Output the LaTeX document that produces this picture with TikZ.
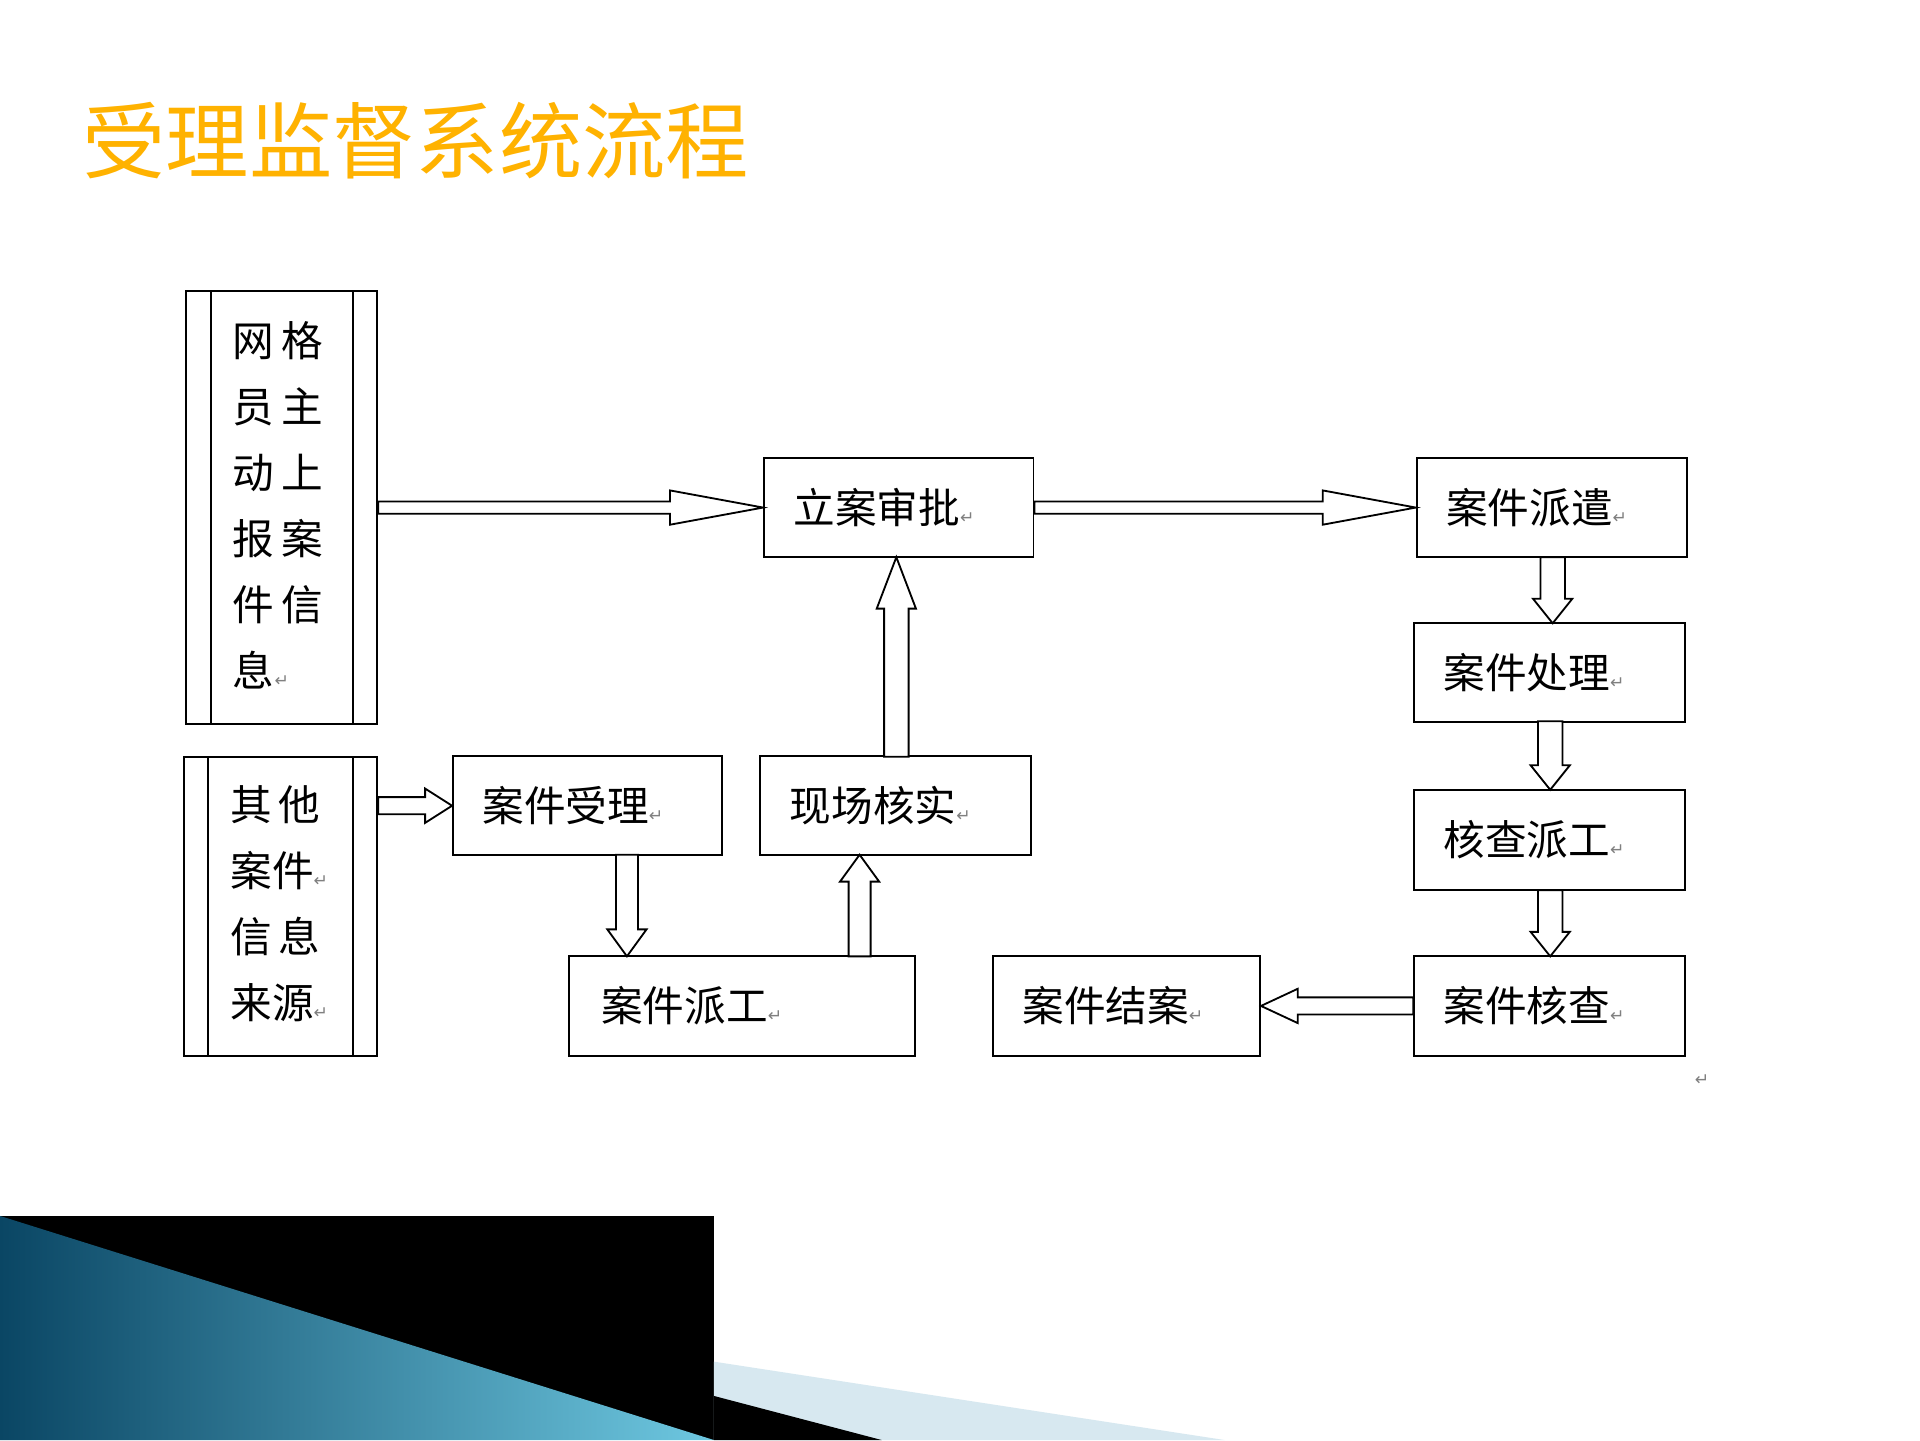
\documentclass[tikz,border=0pt]{standalone}
\usepackage{fontspec}
\newfontfamily\cjk{Noto Sans CJK SC}
\newfontfamily\dv{DejaVu Sans}
\usetikzlibrary{calc,shadings}
\definecolor{tdark}{RGB}{10,70,100}
\definecolor{tlight}{RGB}{110,200,225}
\definecolor{pale}{RGB}{215,232,240}
\newcommand\ret{{\dv\fontsize{14}{14}\selectfont\color{gray}↵}}
\tikzset{
  bx/.style={draw,line width=1.6pt,minimum width=#1,minimum height=81pt,inner sep=0pt,font=\cjk\fontsize{34}{38}\selectfont},
  ha/.style={draw,line width=1.5pt,fill=white}
}
\newcommand\rarr[5]{\path[ha] let \p1=(#1),\p2=(#2) in (\x1,\y1+#3)--(\x2-#5,\y1+#3)--(\x2-#5,\y1+#4)--(\x2,\y1)--(\x2-#5,\y1-#4)--(\x2-#5,\y1-#3)--(\x1,\y1-#3)--cycle;}
\newcommand\larr[5]{\path[ha] let \p1=(#1),\p2=(#2) in (\x1,\y1+#3)--(\x2+#5,\y1+#3)--(\x2+#5,\y1+#4)--(\x2,\y1)--(\x2+#5,\y1-#4)--(\x2+#5,\y1-#3)--(\x1,\y1-#3)--cycle;}
\newcommand\darr[5]{\path[ha] let \p1=(#1),\p2=(#2) in (\x1+#3,\y1)--(\x1+#3,\y2+#5)--(\x1+#4,\y2+#5)--(\x1,\y2)--(\x1-#4,\y2+#5)--(\x1-#3,\y2+#5)--(\x1-#3,\y1)--cycle;}
\newcommand\uarr[5]{\path[ha] let \p1=(#1),\p2=(#2) in (\x1+#3,\y1)--(\x1+#3,\y2-#5)--(\x1+#4,\y2-#5)--(\x1,\y2)--(\x1-#4,\y2-#5)--(\x1-#3,\y2-#5)--(\x1-#3,\y1)--cycle;}
\begin{document}
\begin{tikzpicture}[x=1pt,y=-1pt]
\useasboundingbox (0,0) rectangle (1568,1176);
\fill[white] (0,0) rectangle (1568,1176);
% decoration
\fill[black] (0,993) rectangle (583,1176);
\shade[left color=tdark, right color=tlight] (0,993) -- (583,1176) -- (0,1176) -- cycle;
\fill[pale] (583,1112) -- (1000,1176) -- (583,1176) -- cycle;
\fill[black] (583,1140) -- (720,1176) -- (583,1176) -- cycle;
% title
\node[anchor=west,font=\cjk\fontsize{68}{72}\selectfont,text=orange!60!yellow] (title) at (64,115) {受理监督系统流程};
% side boxes
\node[draw,line width=1.6pt,minimum width=156pt,minimum height=353pt,inner sep=0pt] (src1) at (230,414.5) {};
\draw[line width=1.6pt] (172,238)--(172,591) (288,238)--(288,591);
\node[font=\cjk\fontsize{34}{54}\selectfont,align=left,anchor=north west,inner sep=0pt] at (190,262) {网\,格\\员\,主\\动\,上\\报\,案\\件\,信\\息\ret};
\node[draw,line width=1.6pt,minimum width=158pt,minimum height=244pt,inner sep=0pt] (src2) at (229,740) {};
\draw[line width=1.6pt] (170,618)--(170,862) (288,618)--(288,862);
\node[font=\cjk\fontsize{34}{54}\selectfont,align=left,anchor=north west,inner sep=0pt] at (188,641) {其\,他\\案件\ret\\信\,息\\来源\ret};
% boxes
\node[bx=220pt,text width=172pt,align=left] (lasp) at (734,414.5) {立案审批\ret};
\node[bx=221pt,text width=173pt,align=left] (pq) at (1267.5,414.5) {案件派遣\ret};
\node[bx=221pt,text width=173pt,align=left] (cl) at (1265.5,549) {案件处理\ret};
\node[bx=221pt,text width=173pt,align=left] (hcpg) at (1265.5,686) {核查派工\ret};
\node[bx=221pt,text width=173pt,align=left] (hc) at (1265.5,821.5) {案件核查\ret};
\node[bx=218pt,text width=170pt,align=left] (ja) at (920,821.5) {案件结案\ret};
\node[bx=220pt,text width=172pt,align=left] (sl) at (480,658) {案件受理\ret};
\node[bx=221pt,text width=173pt,align=left] (xc) at (731.5,658) {现场核实\ret};
\node[bx=282pt,text width=230pt,align=left] (pg) at (606,821.5) {案件派工\ret};
\node[font=\dv\fontsize{14}{14}\selectfont,text=gray] at (1390,882) {↵};
% arrows
\coordinate (a1) at (src1.east |- lasp); \rarr{a1}{lasp.west}{5}{14}{76}
\coordinate (a2) at (lasp.east); \rarr{a2}{pq.west}{5}{14}{76}
\coordinate (a3) at (1268,455); \coordinate (b3) at (1268,509); \darr{a3}{b3}{10}{16}{20}
\coordinate (a4) at (1266,589); \coordinate (b4) at (1266,645); \darr{a4}{b4}{10}{16}{20}
\coordinate (a5) at (1266,727); \coordinate (b5) at (1266,781); \darr{a5}{b5}{10}{16}{20}
\larr{hc.west}{ja.east}{7}{14}{30}
\coordinate (a7) at (src2.east |- sl); \rarr{a7}{sl.west}{7}{14}{22}
\coordinate (a8) at (512,698); \coordinate (b8) at (512,781); \darr{a8}{b8}{9}{16}{22}
\coordinate (a9) at (702,781); \coordinate (b9) at (702,698); \uarr{a9}{b9}{9}{16}{22}
\coordinate (a10) at (732,618); \coordinate (b10) at (732,455); \uarr{a10}{b10}{10}{16}{42}
\end{tikzpicture}
\end{document}
